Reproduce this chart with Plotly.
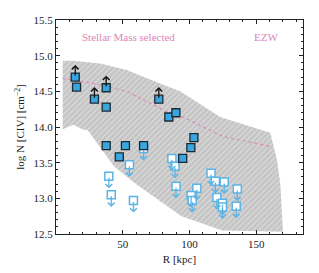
import plotly.graph_objects as go

# detections (filled squares)
det_r = [14.4, 15.4, 28.8, 37.6, 37.6, 77.0, 84.5, 89.8, 103.3, 101.0, 94.9, 37.6, 47.4, 52.0, 65.6]
det_logN = [14.70, 14.56, 14.39, 14.55, 14.28, 14.39, 14.14, 14.20, 13.85, 13.71, 13.56, 13.74, 13.58, 13.74, 13.74]
det_lower = [True, False, True, True, False, True, False, False, False, False, False, False, False, False, False]

# upper limits (open squares)
lim_r = [65.6, 39.6, 41.4, 55.0, 58.0, 86.8, 89.1, 89.9, 105.5, 101.2, 102.0, 116.1, 119.4, 126.0, 120.5, 124.7, 124.7, 135.8, 135.0]
lim_logN = [13.70, 13.31, 13.05, 13.47, 12.97, 13.56, 13.45, 13.17, 13.14, 13.04, 12.97, 13.35, 13.24, 13.23, 13.01, 12.93, 12.88, 13.13, 12.89]

# EZW model envelope (upper edge left->right, then lower edge right->left)
env_up_r = [5, 13, 33, 53, 78, 93, 123, 160.5, 165.5, 168, 170]
env_up_logN = [14.93, 14.93, 14.89, 14.80, 14.61, 14.50, 14.14, 13.92, 13.54, 13.2, 12.53]
env_lo_r = [124.5, 94, 79, 76.5, 58.6, 43.4, 23.5, 20.5, 13, 5]
env_lo_logN = [12.55, 12.75, 12.94, 12.98, 13.22, 13.45, 13.96, 13.96, 14.03, 13.97]

# EZW median
med_r = [5, 28, 53, 78, 85.5, 94, 117, 124.5, 160]
med_logN = [14.68, 14.61, 14.50, 14.26, 14.19, 14.15, 13.94, 13.87, 13.73]

SERIF = "Liberation Serif, DejaVu Serif, Times New Roman, serif"
PINK = "#dc86b8"

fig = go.Figure()

fig.add_trace(go.Scatter(
    x=env_up_r + env_lo_r, y=env_up_logN + env_lo_logN,
    mode="lines", fill="toself", line=dict(width=0, color="rgba(0,0,0,0)"),
    fillcolor="#c6c6c6",
    fillpattern=dict(shape="/", bgcolor="#c4c4c4", fgcolor="#f4f4f4", size=4, solidity=0.3),
    hoverinfo="skip", showlegend=False))

fig.add_trace(go.Scatter(
    x=med_r, y=med_logN, mode="lines",
    line=dict(color=PINK, width=1.1, dash="3px,3px"), showlegend=False))

arrow_len = 0.17
annotations = []
for r, n in zip(lim_r, lim_logN):
    annotations.append(dict(x=r, y=n - arrow_len, ax=r, ay=n, xref="x", yref="y",
                            axref="x", ayref="y", showarrow=True, arrowhead=4,
                            arrowsize=1, arrowwidth=1.3, arrowcolor="#5ab4e6", text=""))
for r, n, lo in zip(det_r, det_logN, det_lower):
    if lo:
        annotations.append(dict(x=r, y=n + arrow_len, ax=r, ay=n, xref="x", yref="y",
                                axref="x", ayref="y", showarrow=True, arrowhead=4,
                                arrowsize=1, arrowwidth=1.3, arrowcolor="#111111", text=""))

fig.add_trace(go.Scatter(
    x=lim_r, y=lim_logN, mode="markers",
    marker=dict(symbol="square", size=8, color="#ffffff", line=dict(color="#5ab4e6", width=1.5)),
    showlegend=False))

fig.add_trace(go.Scatter(
    x=det_r, y=det_logN, mode="markers",
    marker=dict(symbol="square", size=8, color="#3aa6df", line=dict(color="#1a2a33", width=1.3)),
    showlegend=False))

annotations.append(dict(x=0.097, y=0.92, xref="paper", yref="paper", text="Stellar Mass selected",
                        showarrow=False, xanchor="left", yanchor="middle",
                        font=dict(family=SERIF, size=11, color=PINK)))
annotations.append(dict(x=0.905, y=0.92, xref="paper", yref="paper", text="EZW",
                        showarrow=False, xanchor="right", yanchor="middle",
                        font=dict(family=SERIF, size=11, color=PINK)))

axis_common = dict(showgrid=False, zeroline=False, showline=True, linecolor="#222222",
                   linewidth=1, mirror="allticks", ticks="inside", ticklen=4, tickwidth=1,
                   tickcolor="#222222", automargin=False,
                   tickfont=dict(family=SERIF, size=11, color="#222222"))

fig.update_layout(
    width=311, height=265,
    margin=dict(l=48, r=16, t=12, b=39),
    paper_bgcolor="white", plot_bgcolor="white",
    annotations=annotations,
    xaxis=dict(range=[0, 185], tickvals=[50, 100, 150],
               minor=dict(dtick=10, tick0=0, ticks="inside", ticklen=2, tickcolor="#222222"),
               title=dict(text="R [kpc]", font=dict(family=SERIF, size=11, color="#222222"), standoff=6),
               **axis_common),
    yaxis=dict(range=[12.5, 15.5], dtick=0.5, tickformat=".1f",
               minor=dict(dtick=0.1, ticks="inside", ticklen=2, tickcolor="#222222"),
               title=dict(text="log N [CIV] [cm<sup>−2</sup>]", font=dict(family=SERIF, size=11, color="#222222"), standoff=6),
               **axis_common),
)

fig.write_html("out.html")
